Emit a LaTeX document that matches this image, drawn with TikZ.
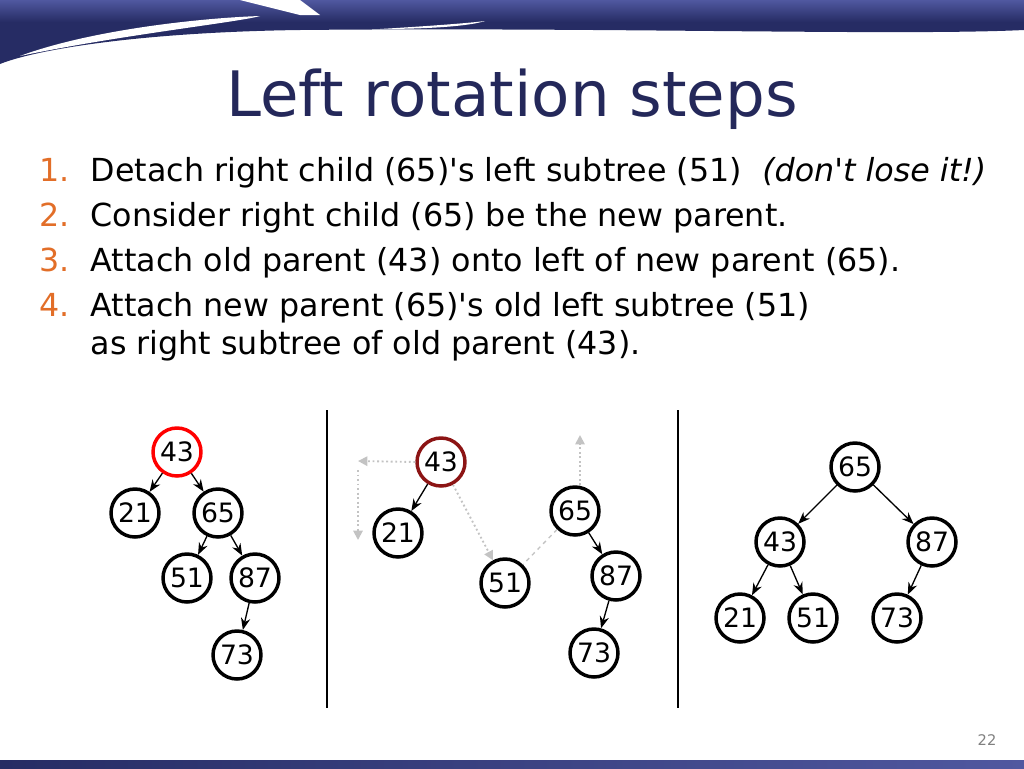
\documentclass[tikz,border=0pt]{standalone}
\usepackage{fontspec}
\setmainfont{DejaVu Sans}[Ligatures=TeXOff]
\usetikzlibrary{arrows.meta}
\definecolor{navy}{RGB}{38,44,100}
\definecolor{navyl}{RGB}{80,88,160}
\definecolor{ttl}{RGB}{36,40,90}
\definecolor{orn}{RGB}{226,110,40}
\definecolor{dred}{RGB}{140,20,20}
\definecolor{gr}{RGB}{195,195,195}
\begin{document}
\begin{tikzpicture}[x=0.75pt,y=-0.75pt,
  nd/.style={circle,draw,line width=2.6pt,minimum size=36pt,inner sep=0pt,font=\fontsize{20}{20}\selectfont},
  ed/.style={-{Stealth[length=9pt,width=7pt]},line width=1pt},
  gd/.style={gr,dotted,line width=1.4pt,-{Triangle[length=7pt,width=7pt]}},
  lst/.style={anchor=base west,font=\fontsize{23.8}{26}\selectfont},
  num/.style={anchor=base west,orn,font=\fontsize{23.8}{26}\selectfont}]
\useasboundingbox (0,0) rectangle (1024,768);
% header
\shade[top color=navyl,bottom color=navy] (0,0) rectangle (1024,22);
\fill[navy] (0,22) -- (1024,22) -- (1024,30) .. controls (900,36) and (600,27) .. (300,30) .. controls (150,32) and (40,48) .. (0,64) -- cycle;
\fill[white] (20,56) .. controls (90,30) and (200,18) .. (260,16) .. controls (240,22) and (120,35) .. (20,56) -- cycle;
\fill[white] (240,0) -- (300,0) -- (320,15) -- (300,15) -- cycle;
\fill[white] (380,29) .. controls (430,26) and (470,23) .. (485,21) .. controls (470,26) and (430,29) .. (380,29) -- cycle;
\shade[left color=navy,right color=navyl] (0,760) rectangle (1024,768);
% title
\node[anchor=base,ttl,font=\fontsize{47}{47}\selectfont] (title) at (512,116) {Left rotation steps};
% list
\node[num] (n1) at (35,181) {1.}; \node[lst] (l1) at (86,181) {Detach right child (65)'s left subtree (51) \ \textit{(don't lose it!)}};
\node[num] (n2) at (35,226) {2.}; \node[lst] (l2) at (86,226) {Consider right child (65) be the new parent.};
\node[num] (n3) at (35,271) {3.}; \node[lst] (l3) at (86,271) {Attach old parent (43) onto left of new parent (65).};
\node[num] (n4) at (35,316) {4.}; \node[lst] (l4) at (86,316) {Attach new parent (65)'s old left subtree (51)};
\node[lst] (l5) at (86,354) {as right subtree of old parent (43).};
% separators
\draw[line width=1pt] (327,410) coordinate (s1) -- (327,708) coordinate (s2);
\draw[line width=1pt] (678,410) coordinate (s3) -- (678,708) coordinate (s4);
% left tree
\node[nd,draw=red] (a43) at (177,452) {43};
\node[nd] (a21) at (135,513) {21};
\node[nd] (a65) at (218,513) {65};
\node[nd] (a51) at (187,578) {51};
\node[nd] (a87) at (255,578) {87};
\node[nd] (a73) at (237,655) {73};
\draw[ed] (a43) -- (a21); \draw[ed] (a43) -- (a65);
\draw[ed] (a65) -- (a51); \draw[ed] (a65) -- (a87);
\draw[ed] (a87) -- (a73);
% middle tree
\node[nd,draw=dred] (b43) at (441,462) {43};
\node[nd] (b21) at (398,533) {21};
\node[nd] (b51) at (505,583) {51};
\node[nd] (b65) at (575,511) {65};
\node[nd] (b87) at (616,576) {87};
\node[nd] (b73) at (594,653) {73};
\draw[ed] (b43) -- (b21); \draw[ed] (b65) -- (b87); \draw[ed] (b87) -- (b73);
\draw[gd] (b43) -- (b51);
\draw[gr,dashed,line width=1pt] (b65) -- (b51);
\coordinate (up) at (580,435);
\draw[gd] (b65.north) ++(5,0) coordinate (b65t) -- (up);
\coordinate (lt) at (358,461);
\draw[gd] (b43.west) -- (lt);
\coordinate (ls) at (358,470); \coordinate (le) at (358,540);
\draw[gd] (ls) -- (le);
% right tree
\node[nd] (c65) at (855,467) {65};
\node[nd] (c43) at (780,542) {43};
\node[nd] (c87) at (932,542) {87};
\node[nd] (c21) at (740,618) {21};
\node[nd] (c51) at (813,618) {51};
\node[nd] (c73) at (897,618) {73};
\draw[ed] (c65) -- (c43); \draw[ed] (c65) -- (c87);
\draw[ed] (c43) -- (c21); \draw[ed] (c43) -- (c51);
\draw[ed] (c87) -- (c73);
% page number
\node[gray,font=\fontsize{11}{11}\selectfont] (pg) at (987,740) {22};
\end{tikzpicture}
\end{document}
